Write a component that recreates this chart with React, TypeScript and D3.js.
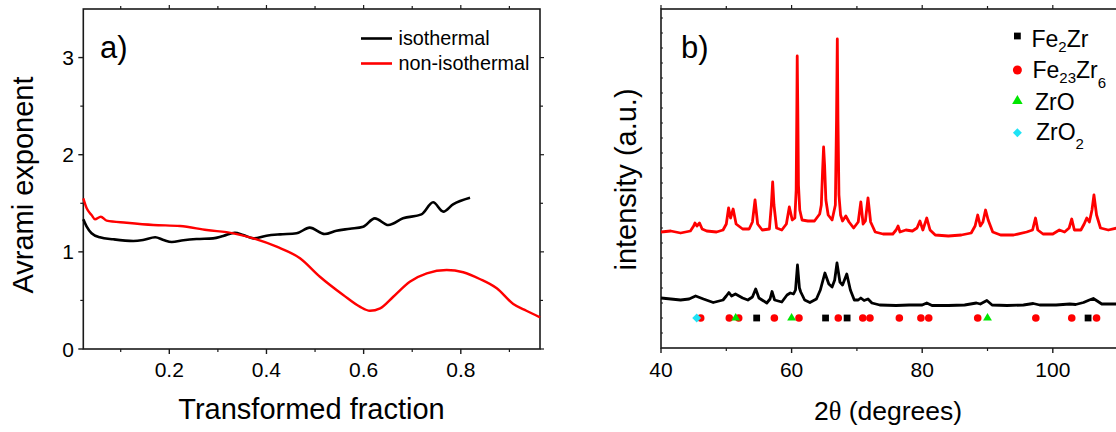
import * as d3 from "d3";
import React from "react";

const FONT = "'Liberation Sans', Arial, Helvetica, sans-serif";

// ---- panel a: Avrami exponent vs transformed fraction ----
const isoFraction = [0.023, 0.03, 0.04, 0.057, 0.085, 0.126, 0.146, 0.171, 0.188, 0.205, 0.229, 0.256, 0.29, 0.311, 0.335, 0.352, 0.373, 0.4, 0.428, 0.462, 0.489, 0.52, 0.544, 0.572, 0.599, 0.623, 0.651, 0.681, 0.719, 0.743, 0.764, 0.784, 0.819];
const isoExponent = [1.335, 1.259, 1.191, 1.15, 1.129, 1.112, 1.122, 1.15, 1.122, 1.101, 1.119, 1.132, 1.139, 1.163, 1.197, 1.174, 1.139, 1.166, 1.18, 1.191, 1.249, 1.184, 1.218, 1.238, 1.259, 1.345, 1.276, 1.345, 1.386, 1.51, 1.414, 1.489, 1.558];

const nonIsoFraction = [0.023, 0.03, 0.04, 0.047, 0.059, 0.071, 0.112, 0.167, 0.222, 0.277, 0.332, 0.373, 0.421, 0.469, 0.51, 0.558, 0.592, 0.613, 0.634, 0.661, 0.695, 0.73, 0.771, 0.805, 0.839, 0.874, 0.908, 0.935, 0.963];
const nonIsoExponent = [1.551, 1.448, 1.379, 1.335, 1.362, 1.321, 1.3, 1.277, 1.266, 1.225, 1.191, 1.139, 1.053, 0.934, 0.744, 0.556, 0.436, 0.394, 0.419, 0.538, 0.693, 0.779, 0.813, 0.79, 0.721, 0.625, 0.463, 0.394, 0.326];

const fracTicks = [0.2, 0.4, 0.6, 0.8];
const fracMinor = [0.1, 0.3, 0.5, 0.7, 0.9];
const expTicks = [0, 1, 2, 3];
const expMinor = [0.5, 1.5, 2.5];

// ---- panel b: XRD patterns ----
const redTheta = [40, 41.5, 43, 44.5, 45, 45.2, 45.5, 45.9, 46.3, 47, 48.5, 49.5, 50, 50.35, 50.65, 51.05, 51.5, 52.5, 53.5, 54, 54.4, 54.8, 55.5, 56.6, 56.9, 57.1, 57.3, 57.7, 58.5, 59.2, 59.65, 60.1, 60.5, 60.7, 60.8, 60.86, 60.95, 61.05, 61.25, 61.6, 62.5, 63.5, 64.3, 64.55, 64.75, 64.9, 65.05, 65.25, 65.6, 66.2, 66.7, 66.88, 67.0, 67.1, 67.25, 67.5, 67.8, 68.3, 68.8, 69.5, 70.2, 70.6, 70.95, 71.3, 71.7, 72.1, 72.8, 74, 75.5, 76, 76.3, 76.6, 77.5, 78.5, 79.2, 79.65, 80.1, 80.7, 81.2, 82, 84, 86, 87.5, 88.1, 88.5, 88.9, 89.3, 89.7, 90.1, 90.8, 92, 94, 96, 96.9, 97.35, 97.7, 98.5, 100, 101, 101.8, 102.5, 102.9, 103.3, 104.3, 104.8, 105.2, 105.6, 106, 106.3, 106.7, 107.3, 108.5, 109.8];
const redIntensity = [116, 117, 115, 117, 122, 125, 122, 125, 119, 117, 116, 118, 124, 140, 130, 139, 124, 119, 119, 126, 148, 124, 118, 119, 143, 166, 143, 120, 118, 124, 141, 128, 130, 158, 238, 292, 238, 163, 138, 128, 127, 127, 134, 143, 178, 201, 183, 148, 133, 128, 143, 228, 309, 228, 153, 133, 127, 132, 126, 120, 126, 146, 124, 127, 150, 126, 116, 114, 114, 118, 122, 116, 118, 117, 120, 127, 118, 130, 118, 113, 112, 113, 115, 122, 133, 122, 126, 138, 128, 116, 113, 113, 116, 118, 130, 118, 114, 114, 118, 116, 120, 129, 118, 118, 124, 130, 126, 138, 153, 133, 120, 118, 120];

const blackTheta = [40, 41.5, 43, 44.3, 45.3, 46.5, 48, 49.5, 50, 50.4, 50.8, 51.4, 52.5, 53.3, 54, 54.5, 55, 56.2, 56.7, 57, 57.4, 58.5, 59.3, 59.8, 60.3, 60.6, 60.9, 61.2, 61.4, 62, 62.8, 63.8, 64.4, 65.1, 65.7, 66.2, 66.6, 66.95, 67.4, 67.8, 68.45, 69, 69.6, 70.2, 70.6, 71.1, 71.7, 72.3, 73.5, 76, 78, 80, 80.7, 81.5, 84, 86.5, 88.3, 88.9, 89.9, 90.7, 93, 95.5, 97, 98, 100.5, 102.6, 103.5, 104.7, 105.6, 106.2, 106.8, 107.5, 109.8];
const blackIntensity = [50, 49, 48, 49, 52, 49, 45.5, 48, 52, 55.5, 52, 54, 50, 48, 51, 59, 50, 45, 49, 56.5, 48, 46, 53, 55, 54, 58, 83, 60, 56, 48, 45.5, 49, 58, 75, 64, 61, 68, 85, 66, 63, 74, 58, 48, 48, 50, 47.5, 49, 45, 43, 42.5, 43, 43, 45, 42.5, 42.5, 43, 45, 44, 47.5, 43, 42.5, 43, 44.5, 43, 43, 44, 43.5, 45.5, 48, 49.5, 47, 44, 44];

// reference reflections (2θ)
const fe2zrPeaks = [54.65, 65.2, 68.5, 105.4];
const fe23zr6Peaks = [46.08, 50.46, 51.9, 57.36, 61.13, 67.15, 70.9, 72.0, 76.5, 79.8, 81.0, 88.5, 97.4, 102.9, 106.7];
const zroPeaks = [51.44, 60.0, 90.0];
const zro2Peaks = [45.47];
const markerLevel = 30;

const thetaTicks = [40, 60, 80, 100];
const thetaMinor = [50, 70, 90, 110];

const GREEN = "#00e600";
const CYAN = "#1fe3f5";

const xA = d3.scaleLinear().domain([0.023, 0.963]).range([83.3, 540]);
const yA = d3.scaleLinear().domain([0, 3.5]).range([349, 9]);
const xB = d3.scaleLinear().domain([40, 109.83]).range([661, 1117]);
const yB = d3.scaleLinear().domain([0, 339]).range([348, 9]);

const lineA = (xs: number[], ys: number[]) =>
  d3.line<number>().x((_, i) => xA(xs[i])).y((_, i) => yA(ys[i])).curve(d3.curveMonotoneX)(xs);
const lineB = (xs: number[], ys: number[]) =>
  d3.line<number>().x((_, i) => xB(xs[i])).y((_, i) => yB(ys[i]))(xs);

const sq = (s: number) => d3.symbol(d3.symbolSquare, s)();
const tri = (s: number) => d3.symbol(d3.symbolTriangle, s)();

const App = () => {
  const ax = "#1a1a1a";
  return (
    <svg width={1116} height={432} style={{ position: "absolute", left: 0, top: 0 }} fontFamily={FONT}>
      <rect width={1116} height={432} fill="#fff" />

      {/* ---------- panel a ---------- */}
      <g>
        <rect x={xA.range()[0]} y={yA.range()[1]} width={xA.range()[1] - xA.range()[0]} height={yA.range()[0] - yA.range()[1]} fill="none" stroke={ax} strokeWidth={1.6} />
        {fracTicks.map(t => (
          <g key={"fa" + t}>
            <line x1={xA(t)} x2={xA(t)} y1={yA(0)} y2={yA(0) + 5} stroke={ax} strokeWidth={1.4} />
            <line x1={xA(t)} x2={xA(t)} y1={yA(3.5)} y2={yA(3.5) - 4} stroke={ax} strokeWidth={1.2} />
            <text x={xA(t)} y={377} fontSize={21} textAnchor="middle">{t.toFixed(1)}</text>
          </g>
        ))}
        {fracMinor.map(t => (
          <g key={"fm" + t}>
            <line x1={xA(t)} x2={xA(t)} y1={yA(0)} y2={yA(0) + 3} stroke={ax} strokeWidth={1.2} />
            <line x1={xA(t)} x2={xA(t)} y1={yA(3.5)} y2={yA(3.5) - 3} stroke={ax} strokeWidth={1.2} />
          </g>
        ))}
        {expTicks.map(t => (
          <g key={"ea" + t}>
            <line x1={xA.range()[0]} x2={xA.range()[0] - 5} y1={yA(t)} y2={yA(t)} stroke={ax} strokeWidth={1.4} />
            <line x1={xA.range()[1]} x2={xA.range()[1] + 4} y1={yA(t)} y2={yA(t)} stroke={ax} strokeWidth={1.2} />
            <text x={74} y={yA(t) + 7.5} fontSize={21} textAnchor="end">{t}</text>
          </g>
        ))}
        {expMinor.map(t => (
          <g key={"em" + t}>
            <line x1={xA.range()[0]} x2={xA.range()[0] - 3} y1={yA(t)} y2={yA(t)} stroke={ax} strokeWidth={1.2} />
            <line x1={xA.range()[1]} x2={xA.range()[1] + 3} y1={yA(t)} y2={yA(t)} stroke={ax} strokeWidth={1.2} />
          </g>
        ))}
        <path d={lineA(isoFraction, isoExponent) || ""} fill="none" stroke="#000" strokeWidth={2.6} strokeLinejoin="round" />
        <path d={lineA(nonIsoFraction, nonIsoExponent) || ""} fill="none" stroke="#ff0000" strokeWidth={2.4} strokeLinejoin="round" />

        <text x={100} y={58} fontSize={31}>a)</text>
        <line x1={361} x2={392} y1={38.5} y2={38.5} stroke="#000" strokeWidth={2.6} />
        <text x={398.5} y={45} fontSize={19.8}>isothermal</text>
        <line x1={361} x2={392} y1={63.5} y2={63.5} stroke="#ff0000" strokeWidth={2.6} />
        <text x={398.5} y={70} fontSize={19.8}>non-isothermal</text>

        <text x={311.5} y={419} fontSize={29} textAnchor="middle">Transformed fraction</text>
        <text transform="translate(33,185) rotate(-90)" fontSize={29} textAnchor="middle">Avrami exponent</text>
      </g>

      {/* ---------- panel b ---------- */}
      <g>
        <rect x={xB.range()[0]} y={yB.range()[1]} width={xB.range()[1] - xB.range()[0]} height={yB.range()[0] - yB.range()[1]} fill="none" stroke={ax} strokeWidth={1.6} />
        {thetaTicks.map(t => (
          <g key={"tb" + t}>
            <line x1={xB(t)} x2={xB(t)} y1={yB(0)} y2={yB(0) + 5} stroke={ax} strokeWidth={1.4} />
            <line x1={xB(t)} x2={xB(t)} y1={yB(339)} y2={yB(339) - 4} stroke={ax} strokeWidth={1.2} />
            <text x={xB(t)} y={377} fontSize={21} textAnchor="middle">{t}</text>
          </g>
        ))}
        {thetaMinor.map(t => (
          <g key={"tm" + t}>
            <line x1={xB(t)} x2={xB(t)} y1={yB(0)} y2={yB(0) + 3} stroke={ax} strokeWidth={1.2} />
            <line x1={xB(t)} x2={xB(t)} y1={yB(339)} y2={yB(339) - 3} stroke={ax} strokeWidth={1.2} />
          </g>
        ))}
        {d3.range(15, 339, 15).map(t => (
          <line key={"yb" + t} x1={xB.range()[0]} x2={xB.range()[0] + 2} y1={yB(t)} y2={yB(t)} stroke={ax} strokeWidth={1} />
        ))}

        <path d={lineB(redTheta, redIntensity) || ""} fill="none" stroke="#ff0000" strokeWidth={2.8} strokeLinejoin="round" />
        <path d={lineB(blackTheta, blackIntensity) || ""} fill="none" stroke="#000" strokeWidth={2.8} strokeLinejoin="round" />

        {fe23zr6Peaks.map(p => (
          <circle key={"c" + p} cx={xB(p)} cy={yB(markerLevel)} r={3.8} fill="#ff0000" />
        ))}
        {fe2zrPeaks.map(p => (
          <path key={"s" + p} d={sq(46) || ""} transform={`translate(${xB(p)},${yB(markerLevel)})`} fill="#000" />
        ))}
        {zroPeaks.map(p => (
          <path key={"t" + p} d={tri(34) || ""} transform={`translate(${xB(p)},${yB(markerLevel)})`} fill={GREEN} />
        ))}
        {zro2Peaks.map(p => (
          <path key={"d" + p} d={sq(40) || ""} transform={`translate(${xB(p)},${yB(markerLevel)}) rotate(45)`} fill={CYAN} />
        ))}

        <text x={681} y={58} fontSize={31}>b)</text>

        {/* legend */}
        <path d={sq(46) || ""} transform="translate(1017.4,36)" fill="#000" />
        <text x={1031.5} y={46.7} fontSize={23}>Fe<tspan fontSize={15} dy={5}>2</tspan><tspan dy={-5}>Zr</tspan></text>
        <circle cx={1017.4} cy={70} r={4.5} fill="#ff0000" />
        <text x={1032.5} y={77.5} fontSize={23}>Fe<tspan fontSize={15} dy={5}>23</tspan><tspan dy={-5}>Zr</tspan><tspan fontSize={15} dy={10}>6</tspan></text>
        <path d={tri(48) || ""} transform="translate(1017.4,101)" fill={GREEN} />
        <text x={1035} y={110} fontSize={23}>ZrO</text>
        <path d={sq(40) || ""} transform="translate(1017.4,132.7) rotate(45)" fill={CYAN} />
        <text x={1036} y={140} fontSize={23}>ZrO<tspan fontSize={15} dy={9}>2</tspan></text>

        <text x={888} y={420} fontSize={26.5} textAnchor="middle">2<tspan fontFamily="'Liberation Serif', 'DejaVu Serif', serif">θ</tspan> (degrees)</text>
        <text transform="translate(636,179.5) rotate(-90)" fontSize={29} textAnchor="middle">intensity (a.u.)</text>
      </g>
    </svg>
  );
};

export default App;
